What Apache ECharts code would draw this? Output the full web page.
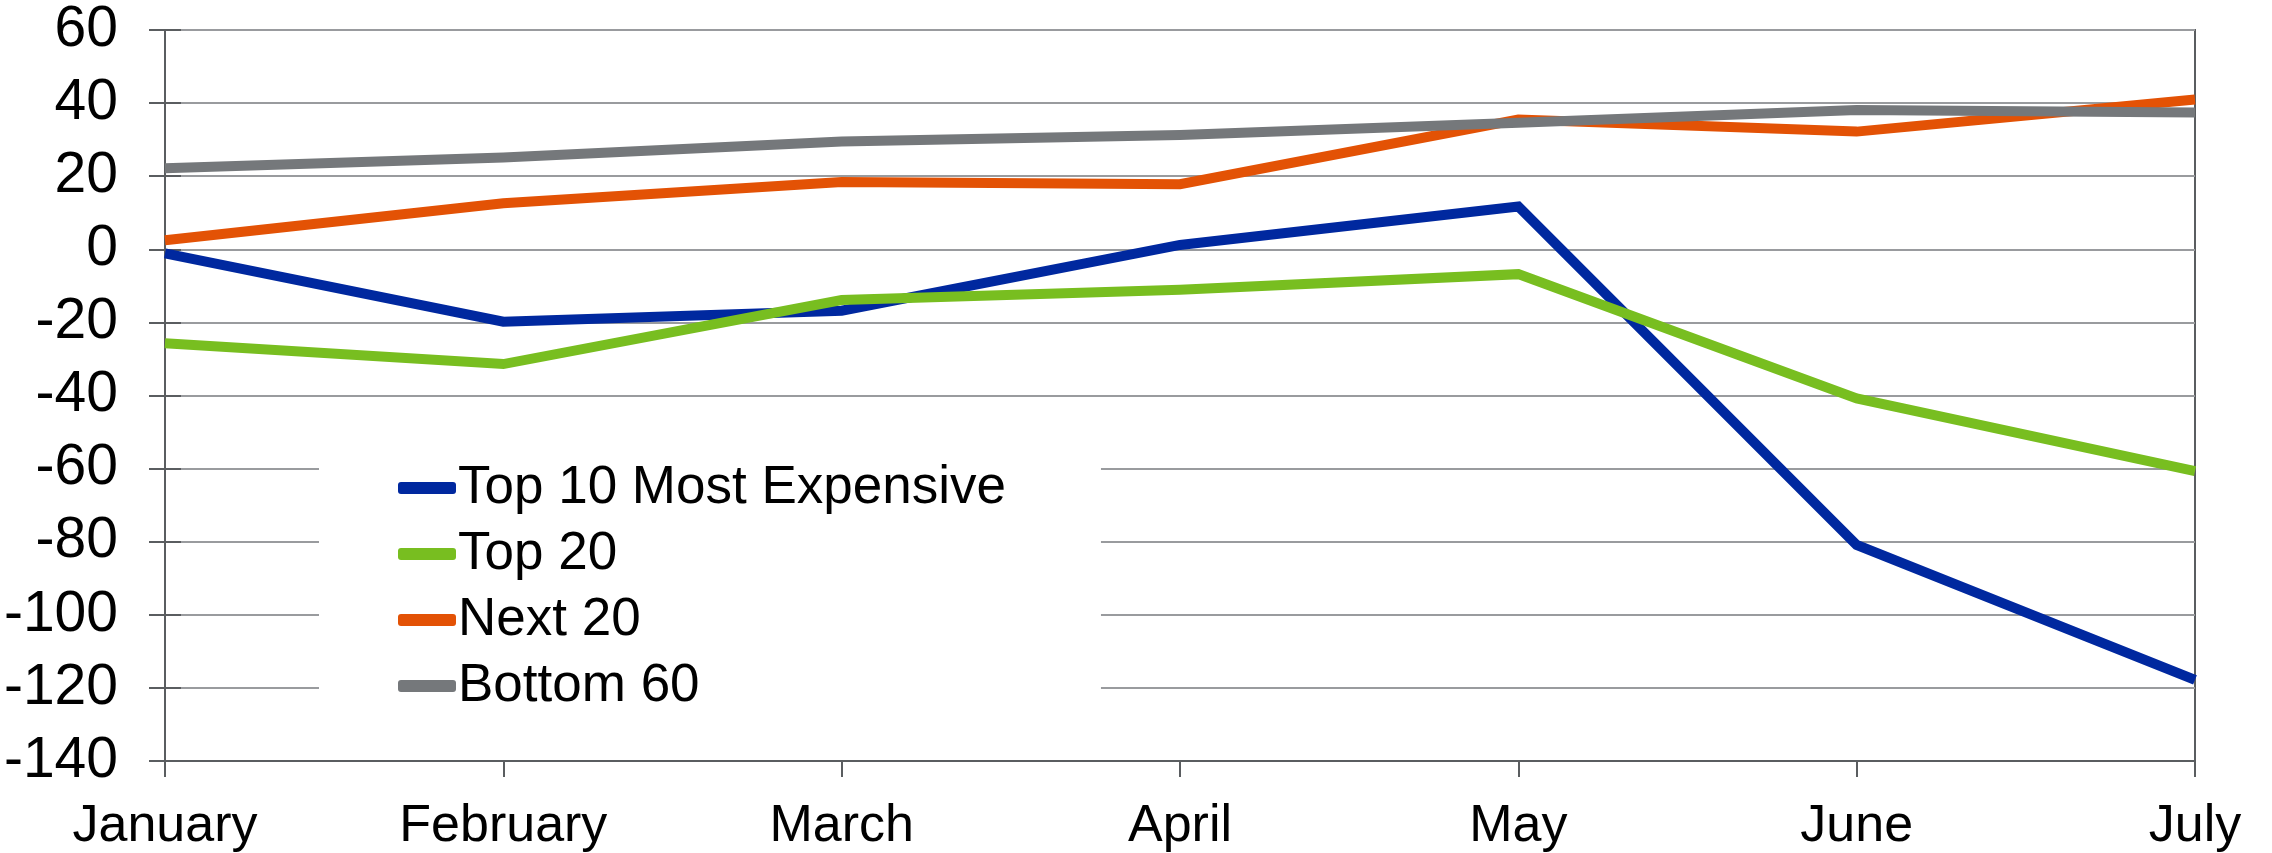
<!DOCTYPE html>
<html>
<head>
<meta charset="utf-8">
<script src="https://cdn.jsdelivr.net/npm/echarts@6/dist/echarts.min.js"></script>
<style>
html,body{margin:0;padding:0;background:#fff;}
#chart{width:2272px;height:853px;}
</style>
</head>
<body>
<div id="chart"></div>
<script>
const categories = ['January', 'February', 'March', 'April', 'May', 'June', 'July'];
const seriesNames = ['Top 10 Most Expensive', 'Top 20', 'Next 20', 'Bottom 60'];
const top10 = [-1.1, -19.8, -16.8, 1.2, 11.7, -80.9, -117.8];
const top20 = [-25.7, -31.4, -13.9, -11.1, -6.8, -40.8, -60.7];
const next20 = [2.5, 12.6, 18.4, 17.8, 35.5, 32.2, 41.0];
const bottom60 = [22.2, 25.1, 29.5, 31.3, 34.6, 38.1, 37.4];
const colors = ['#00289F', '#78BE20', '#E35205', '#75787B'];
const yMin = -140, yMax = 60, yInterval = 20;

const FONT = '"Liberation Sans", Arial, sans-serif';
const chart = echarts.init(document.getElementById('chart'), null, {renderer: 'canvas'});
const dataSets = [top10, top20, next20, bottom60];

chart.setOption({
  animation: false,
  backgroundColor: '#ffffff',
  color: colors,
  grid: {
    left: 165, right: 77, top: 30, bottom: 92,
    show: true, borderColor: '#5a5d60', borderWidth: 2, backgroundColor: 'transparent'
  },
  legend: {
    orient: 'vertical',
    left: 319, top: 440,
    padding: [20, 95, 20, 79],
    backgroundColor: '#ffffff',
    itemWidth: 58, itemHeight: 12, itemGap: 10,
    icon: 'roundRect',
    textStyle: {fontFamily: FONT, fontSize: 53, color: '#000', lineHeight: 56, padding: [0, 0, 0, -3]},
    data: seriesNames
  },
  xAxis: {
    type: 'category',
    data: categories,
    boundaryGap: false,
    axisLine: {show: true, onZero: false, lineStyle: {color: '#5a5d60', width: 2}},
    axisTick: {show: true, length: 16, lineStyle: {color: '#5a5d60', width: 2}},
    axisLabel: {fontFamily: FONT, fontSize: 52, color: '#000', margin: 40},
    splitLine: {show: false}
  },
  yAxis: [{
    type: 'value',
    min: yMin, max: yMax, interval: yInterval,
    axisLine: {show: true, lineStyle: {color: '#5a5d60', width: 2}},
    axisTick: {show: true, length: 16, lineStyle: {color: '#5a5d60', width: 2}},
    axisLabel: {fontFamily: FONT, fontSize: 57, color: '#000', margin: 47},
    splitLine: {show: true, lineStyle: {color: '#999b9e', width: 2}}
  }, {
    type: 'value',
    position: 'left',
    offset: 0,
    min: yMin, max: yMax, interval: yInterval,
    axisLine: {show: false},
    axisTick: {show: true, inside: true, length: 16, lineStyle: {color: '#5a5d60', width: 2}},
    axisLabel: {show: false},
    splitLine: {show: false}
  }],
  series: seriesNames.map((name, i) => ({
    name: name,
    type: 'line',
    data: dataSets[i],
    yAxisIndex: 0,
    symbol: 'none',
    lineStyle: {width: 10, color: colors[i], cap: 'butt', join: 'miter'},
    itemStyle: {color: colors[i]},
    z: 2 + i
  }))
});
</script>
</body>
</html>
